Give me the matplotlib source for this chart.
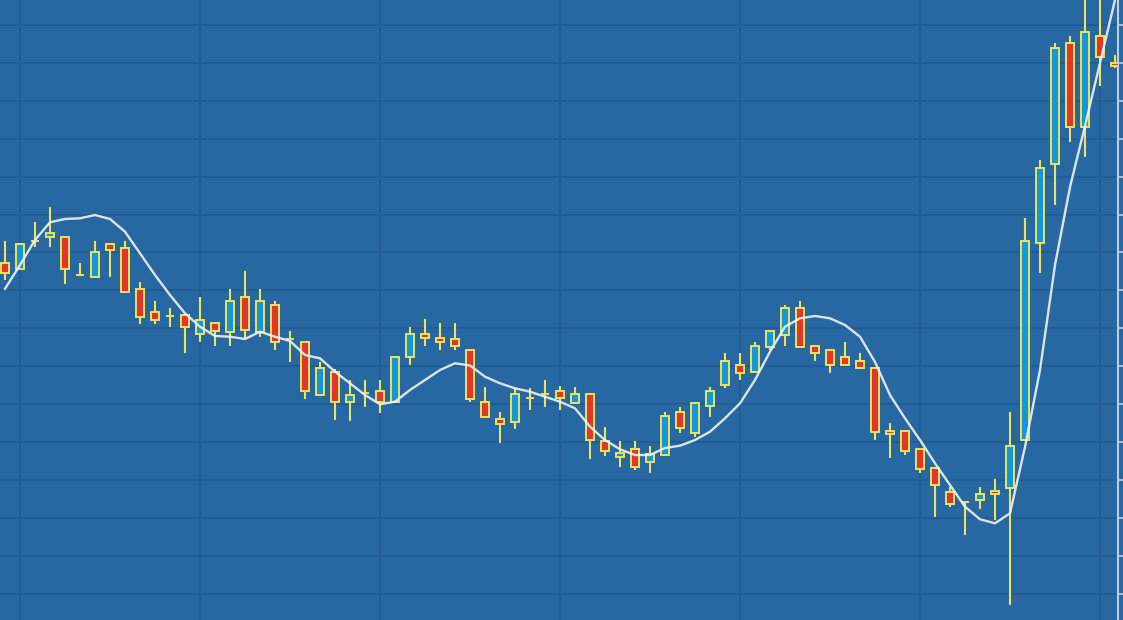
import numpy as np
import matplotlib
matplotlib.use('Agg')
import matplotlib.pyplot as plt

# OHLC (arbitrary price units, no labels shown)
opens = [35.67, 35.07, 37.93, 38.33, 38.27, 34.5, 34.27, 37.57, 37.17, 33.07,
         30.77, 30.4, 30.5, 28.57, 29.67, 28.83, 32.27, 28.83, 31.5, 28.15,
         27.77, 22.5, 24.83, 21.77, 22.7, 22.93, 21.83, 26.33, 28.57, 28.17,
         28.1, 27.0, 21.77, 20.07, 19.83, 22.17, 22.57, 22.9, 21.73, 22.57,
         17.9, 16.27, 17.07, 15.83, 16.5, 20.83, 18.73, 21.4, 23.5, 25.5,
         24.83, 27.33, 28.5, 31.17, 27.4, 27.0, 26.27, 25.9, 25.17, 18.93,
         18.93, 17.07, 15.17, 12.83, 11.77, 12.0, 12.93, 13.17, 18.0, 37.73,
         45.57, 57.67, 49.33, 58.4, 55.73]
highs = [37.93, 37.7, 39.83, 41.33, 38.4, 35.73, 37.93, 37.65, 37.93, 33.83,
         31.9, 31.17, 30.6, 32.27, 29.75, 33.07, 34.93, 33.07, 31.9, 28.93,
         27.85, 25.83, 25.1, 24.0, 24.0, 24.0, 26.35, 29.27, 30.07, 29.67,
         29.67, 27.05, 23.27, 20.83, 23.17, 23.17, 24.0, 23.4, 23.27, 22.65,
         19.33, 17.9, 17.9, 17.4, 20.83, 21.27, 21.8, 23.33, 26.67, 26.67,
         27.83, 28.95, 31.5, 31.93, 27.45, 27.05, 27.83, 26.67, 25.25, 19.73,
         19.0, 17.15, 15.25, 13.27, 11.8, 13.33, 14.07, 20.77, 40.17, 46.0,
         57.67, 58.4, 64.0, 64.0, 56.5]
lows = [34.0, 35.0, 37.33, 37.33, 33.57, 34.45, 34.27, 34.27, 32.8, 29.6,
        29.6, 29.33, 26.67, 27.83, 27.4, 27.4, 28.17, 28.33, 27.0, 25.83,
        22.1, 22.45, 20.0, 19.93, 21.33, 20.67, 21.75, 25.5, 27.4, 27.0,
        27.0, 21.77, 20.2, 17.67, 19.1, 21.0, 21.33, 21.0, 21.65, 16.1,
        16.43, 15.33, 15.0, 14.73, 16.45, 18.73, 18.33, 20.33, 23.17, 24.0,
        24.75, 27.0, 27.4, 27.25, 25.9, 24.73, 25.45, 25.1, 18.0, 16.17,
        16.5, 14.67, 10.33, 11.27, 8.5, 11.07, 10.0, 1.5, 17.95, 34.67,
        41.5, 47.83, 46.33, 53.4, 55.2]
closes = [34.73, 37.57, 37.93, 38.73, 35.07, 34.5, 36.83, 37.0, 32.83, 30.33,
          30.0, 30.4, 29.27, 30.0, 28.93, 31.9, 29.0, 31.9, 27.83, 28.15,
          22.93, 25.17, 21.77, 22.5, 22.7, 21.77, 26.27, 28.57, 28.17, 27.77,
          27.4, 22.1, 20.27, 19.57, 22.57, 22.17, 22.57, 22.17, 22.57, 18.0,
          16.9, 16.73, 15.33, 16.6, 20.45, 19.17, 21.73, 22.93, 25.9, 24.73,
          27.4, 28.9, 31.17, 27.33, 26.67, 25.5, 25.5, 25.17, 18.8, 18.6,
          16.93, 15.07, 13.5, 11.6, 11.77, 12.57, 12.57, 17.4, 37.93, 45.17,
          57.23, 49.33, 58.77, 56.27, 55.4]
# smoothed moving average line as drawn in the reference
ma_line = [33.12, 35.5, 38.0, 39.77, 40.1, 40.17, 40.5, 40.1, 38.83, 36.67,
           34.5, 32.5, 30.67, 29.33, 28.4, 28.33, 28.1, 28.83, 28.33, 27.9,
           26.5, 26.17, 24.83, 23.67, 22.5, 21.57, 21.83, 23.0, 24.0, 25.0,
           25.67, 25.45, 24.33, 23.67, 23.17, 22.83, 22.33, 21.83, 21.17, 19.33,
           18.0, 17.07, 16.5, 16.5, 17.2, 17.43, 18.0, 18.83, 20.17, 21.67,
           24.0, 26.83, 29.33, 30.17, 30.4, 30.17, 29.5, 28.33, 25.8, 22.5,
           20.17, 18.0, 15.67, 13.5, 11.33, 10.07, 9.67, 10.67, 17.3, 25.0,
           35.5, 43.3, 49.4, 55.7, 62.0]

BG = '#2767a2'
GRID = '#215c93'
UP = '#1497d8'
DOWN = '#e0362b'
EDGE = '#ece35c'

o = np.array(opens)
c = np.array(closes)
idx = np.arange(len(o))
up = c >= o

fig = plt.figure(figsize=(11.23, 6.2), dpi=100)
fig.patch.set_facecolor(BG)
ax = fig.add_axes([0, 0, 1118 / 1123, 1])
ax.set_facecolor(BG)

ax.set_xlim(-1 / 3, 74.2)
ax.set_ylim(0, 62)

# grid
for gx in range(1, 75, 12):
    ax.axvline(gx, color=GRID, lw=1.3, zorder=0)
gy = 59.5 - 3.79 * np.arange(16)
for g in gy:
    ax.axhline(g, color=GRID, lw=1.3, zorder=0)

# candles
ax.vlines(idx, lows, highs, color=EDGE, lw=1.5, zorder=2)
ax.bar(idx, c - o, bottom=o, width=0.56,
       color=np.where(up, UP, DOWN), edgecolor=EDGE, linewidth=1.4, zorder=3)

ax.plot(idx, ma_line, color='#eef3f8', lw=1.7, alpha=0.9, zorder=4,
        solid_joinstyle='round')

# right axis only, ticks without labels
for s in ['left', 'top', 'bottom']:
    ax.spines[s].set_visible(False)
ax.spines['right'].set_color('#c5ccd8')
ax.spines['right'].set_linewidth(1.5)
ax.set_xticks([])
ax.set_yticks(gy)
ax.yaxis.tick_right()
ax.tick_params(axis='y', colors='#c5ccd8', length=6, width=1.2,
               direction='out', labelright=False)

fig.savefig('out.png', dpi=100, facecolor=BG)
